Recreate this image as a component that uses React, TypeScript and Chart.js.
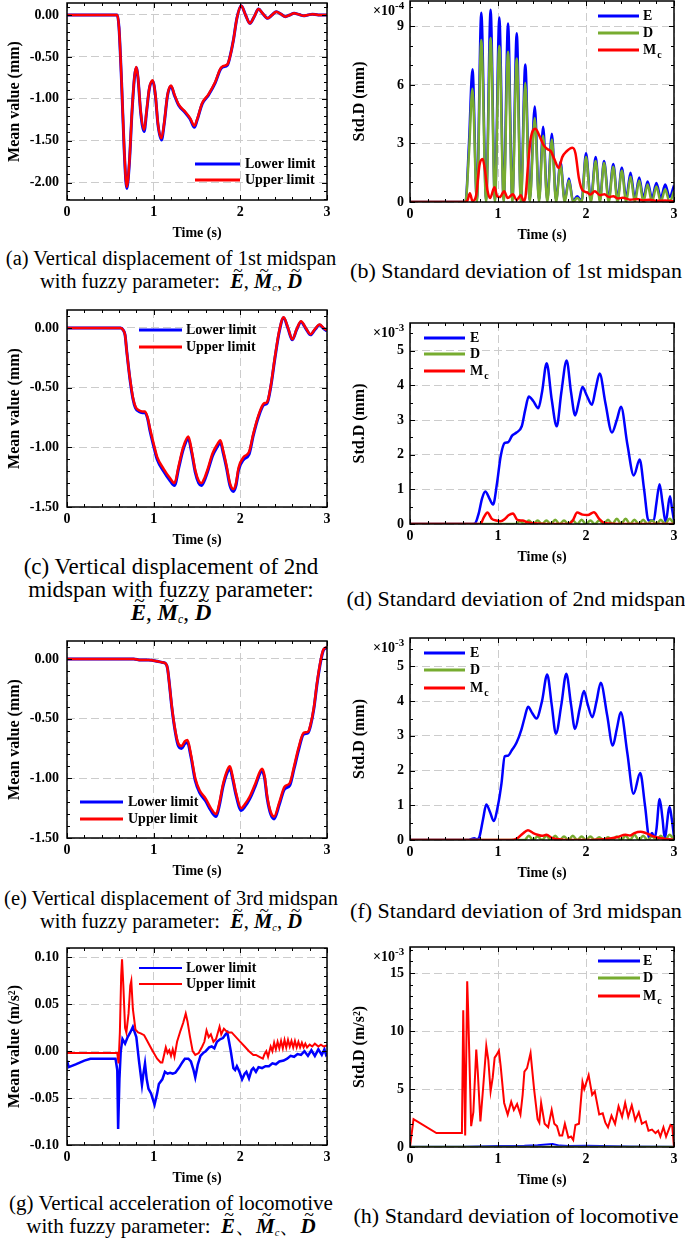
import React, { useEffect, useRef } from "react";
import { Chart, registerables } from "chart.js";

Chart.register(...registerables);

const SERIF = '"Liberation Serif", "Times New Roman", serif';
const BLUE = "#0000ff";
const RED = "#ff0000";
const GREEN = "#77ac30";

// ---------- shared ticks ----------
const X_TICKS = [0, 1, 2, 3];
const Y_TICKS_A = [-2, -1.5, -1, -0.5, 0];
const Y_TICKS_CE = [-1.5, -1, -0.5, 0];
const Y_TICKS_B = [0, 3, 6, 9];
const Y_TICKS_DF = [0, 1, 2, 3, 4, 5];
const Y_TICKS_G = [-0.1, -0.05, 0, 0.05, 0.1];
const Y_TICKS_H = [0, 5, 10, 15];

// ---------- (a) 1st midspan mean ----------
const aT = [0, 0.58, 0.6, 0.63, 0.66, 0.69, 0.72, 0.75, 0.78, 0.8, 0.82, 0.85, 0.89, 0.92, 0.95, 0.99, 1.02, 1.05, 1.09, 1.12, 1.16, 1.2, 1.24, 1.29, 1.36, 1.42, 1.47, 1.5, 1.56, 1.63, 1.71, 1.77, 1.8, 1.85, 1.88, 1.92, 1.96, 2.01, 2.06, 2.11, 2.16, 2.21, 2.26, 2.315, 2.365, 2.415, 2.47, 2.52, 2.57, 2.62, 2.68, 2.73, 2.78, 2.83, 2.9, 3.0];
const aUpper = [0, 0, -0.15, -0.8, -1.6, -2.05, -1.75, -1.15, -0.72, -0.62, -0.75, -1.15, -1.37, -1.13, -0.87, -0.78, -0.95, -1.3, -1.47, -1.3, -0.95, -0.84, -0.95, -1.07, -1.15, -1.23, -1.32, -1.25, -1.05, -0.95, -0.8, -0.64, -0.61, -0.59, -0.5, -0.3, -0.04, 0.11, 0.0, -0.1, -0.02, 0.07, 0.015, -0.04, 0.0, 0.04, 0.01, -0.02, 0.0, 0.02, 0.005, -0.01, 0.0, 0.01, 0.0, 0.0];
const aLower = [0, 0, -0.15, -0.81, -1.61, -2.07, -1.76, -1.16, -0.73, -0.63, -0.76, -1.16, -1.39, -1.14, -0.88, -0.79, -0.96, -1.31, -1.49, -1.31, -0.96, -0.85, -0.96, -1.08, -1.16, -1.24, -1.34, -1.26, -1.06, -0.96, -0.81, -0.65, -0.62, -0.6, -0.5, -0.3, -0.04, 0.11, 0.0, -0.1, -0.02, 0.07, 0.015, -0.04, 0.0, 0.04, 0.01, -0.02, 0.0, 0.02, 0.005, -0.01, 0.0, 0.01, 0.0, 0.0];

// ---------- (b) 1st midspan std (x1e-4) ----------
const bT = [0, 0.63, 0.67, 0.71, 0.76, 0.81, 0.865, 0.916, 0.965, 1.015, 1.065, 1.114, 1.163, 1.213, 1.26, 1.31, 1.36, 1.418, 1.466, 1.513, 1.56, 1.612, 1.66, 1.71, 1.758, 1.806, 1.853, 1.9, 1.95, 2.0, 2.055, 2.11, 2.158, 2.205, 2.258, 2.31, 2.358, 2.407, 2.456, 2.506, 2.555, 2.605, 2.652, 2.7, 2.75, 2.8, 2.85, 2.9, 2.95, 3.0];
const bE = [0, 0, 3.0, 6.8, 0.1, 9.7, 0.1, 9.85, 0.1, 9.45, 0.1, 9.15, 0.1, 8.65, 0.1, 7.05, 0.1, 4.9, 0.1, 3.85, 0.1, 3.5, 0.1, 2.05, 0.1, 1.2, 0.05, 0.3, 0.05, 2.5, 0.1, 2.3, 0.1, 2.1, 0.15, 1.95, 0.15, 1.75, 0.2, 1.5, 0.2, 1.25, 0.2, 1.05, 0.2, 0.97, 0.2, 0.9, 0.25, 0.85];
const bD = [0, 0, 2.5, 5.8, 0, 8.3, 0, 8.4, 0, 8.0, 0, 7.7, 0, 7.35, 0, 6.1, 0, 4.3, 0, 3.4, 0, 3.2, 0, 1.9, 0, 1.1, 0, 0.2, 0, 2.3, 0, 2.1, 0, 2.0, 0, 1.8, 0, 1.6, 0, 1.3, 0, 1.1, 0, 0.9, 0, 0.8, 0, 0.65, 0, 0.55];
const bMT = [0, 0.62, 0.655, 0.68, 0.71, 0.75, 0.79, 0.825, 0.85, 0.88, 0.91, 0.96, 0.99, 1.02, 1.07, 1.11, 1.17, 1.21, 1.26, 1.29, 1.31, 1.34, 1.37, 1.425, 1.47, 1.52, 1.565, 1.6, 1.64, 1.69, 1.73, 1.78, 1.845, 1.88, 1.92, 1.96, 2.01, 2.05, 2.1, 2.16, 2.21, 2.26, 2.31, 2.36, 2.42, 2.5, 2.58, 2.65, 2.72, 2.8, 2.9, 3.0];
const bM = [0, 0, 0.1, 0.45, 0.05, 0.3, 1.9, 2.2, 1.7, 0.6, 0.2, 0.75, 0.3, 0.25, 0.55, 0.2, 0.4, 0.1, 0.35, 0.05, 0.2, 1.8, 3.2, 3.75, 3.4, 2.9, 2.7, 2.6, 2.2, 1.75, 2.3, 2.6, 2.78, 2.5, 1.2, 0.6, 0.5, 0.38, 0.55, 0.35, 0.4, 0.25, 0.3, 0.18, 0.22, 0.12, 0.15, 0.08, 0.12, 0.06, 0.08, 0.04];

// ---------- (c) 2nd midspan mean ----------
const cT = [0, 0.62, 0.65, 0.67, 0.69, 0.71, 0.73, 0.76, 0.79, 0.83, 0.87, 0.9, 0.93, 0.96, 1.0, 1.04, 1.115, 1.19, 1.24, 1.29, 1.34, 1.4, 1.44, 1.48, 1.52, 1.55, 1.59, 1.62, 1.68, 1.73, 1.77, 1.8, 1.84, 1.88, 1.92, 1.95, 1.98, 2.04, 2.1, 2.15, 2.21, 2.27, 2.31, 2.35, 2.4, 2.45, 2.5, 2.55, 2.6, 2.65, 2.7, 2.755, 2.81, 2.86, 2.915, 2.96, 3.0];
const cUpper = [0, 0, -0.02, -0.06, -0.2, -0.33, -0.44, -0.58, -0.66, -0.69, -0.7, -0.7, -0.75, -0.85, -0.97, -1.08, -1.18, -1.26, -1.3, -1.15, -1.0, -0.91, -1.03, -1.19, -1.28, -1.3, -1.25, -1.19, -1.05, -0.98, -0.94, -1.02, -1.15, -1.3, -1.35, -1.3, -1.17, -1.08, -1.04, -0.885, -0.73, -0.634, -0.62, -0.49, -0.24, -0.02, 0.09, 0.0, -0.095, -0.01, 0.056, 0.0, -0.053, -0.01, 0.028, 0.0, -0.02];
const cLower = [0, 0, -0.02, -0.06, -0.2, -0.33, -0.45, -0.59, -0.67, -0.7, -0.71, -0.71, -0.76, -0.87, -0.99, -1.1, -1.2, -1.28, -1.32, -1.17, -1.02, -0.93, -1.05, -1.21, -1.3, -1.32, -1.27, -1.21, -1.07, -1.0, -0.96, -1.04, -1.17, -1.32, -1.37, -1.32, -1.19, -1.1, -1.06, -0.9, -0.745, -0.645, -0.63, -0.5, -0.25, -0.03, 0.085, -0.005, -0.1, -0.015, 0.05, -0.005, -0.058, -0.015, 0.024, -0.005, -0.025];

// ---------- (d) 2nd midspan std (x1e-3) ----------
const dET = [0, 0.7, 0.74, 0.78, 0.82, 0.856, 0.9, 0.944, 0.99, 1.03, 1.077, 1.115, 1.16, 1.21, 1.27, 1.31, 1.35, 1.4, 1.458, 1.5, 1.553, 1.61, 1.667, 1.72, 1.78, 1.83, 1.877, 1.92, 1.96, 2.01, 2.067, 2.11, 2.155, 2.22, 2.295, 2.35, 2.398, 2.47, 2.543, 2.61, 2.66, 2.71, 2.77, 2.8, 2.836, 2.87, 2.905, 2.954, 2.98, 3.0];
const dE = [0, 0, 0.02, 0.3, 0.75, 0.94, 0.75, 0.56, 1.2, 1.95, 2.34, 2.36, 2.55, 2.64, 2.82, 3.3, 3.68, 3.55, 3.34, 3.8, 4.64, 3.6, 2.82, 3.8, 4.72, 3.8, 3.13, 3.55, 3.95, 3.7, 3.44, 3.9, 4.34, 3.5, 2.64, 3.0, 3.38, 2.3, 1.4, 1.86, 1.0, 0.1, 0.1, 0.6, 1.15, 0.6, 0.05, 0.8, 0.4, 0.1];
const dDT = [0, 1.2, 1.25, 1.3, 1.35, 1.4, 1.45, 1.5, 1.55, 1.6, 1.65, 1.7, 1.75, 1.8, 1.85, 1.9, 1.95, 2.0, 2.05, 2.1, 2.15, 2.2, 2.25, 2.3, 2.35, 2.4, 2.45, 2.5, 2.55, 2.6, 2.65, 2.7, 2.75, 2.8, 2.85, 2.9, 2.95, 3.0];
const dD = [0, 0, 0.08, 0, 0.1, 0, 0.1, 0, 0.1, 0, 0.12, 0, 0.1, 0, 0.1, 0, 0.12, 0, 0.1, 0, 0.1, 0, 0.12, 0, 0.15, 0, 0.15, 0, 0.12, 0, 0.12, 0, 0.1, 0, 0.12, 0, 0.15, 0];
const dMT = [0, 0.8, 0.84, 0.88, 0.93, 0.98, 1.03, 1.08, 1.12, 1.17, 1.22, 1.28, 1.33, 1.4, 1.6, 1.8, 1.85, 1.9, 1.96, 2.02, 2.09, 2.15, 2.22, 2.4, 2.6, 2.8, 3.0];
const dM = [0, 0, 0.2, 0.33, 0.15, 0.1, 0.08, 0.15, 0.25, 0.3, 0.12, 0.1, 0.05, 0.02, 0, 0, 0.1, 0.33, 0.27, 0.26, 0.34, 0.15, 0.02, 0, 0, 0, 0];

// ---------- (e) 3rd midspan mean ----------
const eT = [0, 0.77, 0.85, 0.94, 1.04, 1.1, 1.14, 1.16, 1.18, 1.21, 1.24, 1.28, 1.32, 1.36, 1.39, 1.43, 1.48, 1.53, 1.6, 1.66, 1.72, 1.76, 1.8, 1.85, 1.88, 1.91, 1.95, 2.01, 2.05, 2.11, 2.17, 2.25, 2.28, 2.31, 2.35, 2.39, 2.45, 2.51, 2.57, 2.62, 2.67, 2.73, 2.78, 2.81, 2.85, 2.885, 2.93, 2.96, 3.0];
const eUpper = [0, 0, -0.01, -0.01, -0.02, -0.03, -0.04, -0.08, -0.2, -0.4, -0.56, -0.7, -0.73, -0.69, -0.68, -0.8, -1.0, -1.1, -1.17, -1.25, -1.3, -1.2, -1.05, -0.93, -0.9, -0.98, -1.12, -1.25, -1.22, -1.15, -1.05, -0.92, -0.98, -1.15, -1.28, -1.32, -1.2, -1.07, -1.04, -0.9, -0.75, -0.62, -0.61, -0.55, -0.4, -0.2, 0.0, 0.08, 0.1];
const eLower = [0, 0, -0.01, -0.01, -0.02, -0.03, -0.04, -0.08, -0.2, -0.41, -0.57, -0.72, -0.75, -0.71, -0.7, -0.82, -1.02, -1.12, -1.19, -1.27, -1.32, -1.22, -1.07, -0.95, -0.92, -1.0, -1.14, -1.27, -1.24, -1.17, -1.07, -0.94, -1.0, -1.17, -1.3, -1.34, -1.22, -1.09, -1.06, -0.92, -0.77, -0.63, -0.62, -0.56, -0.41, -0.21, -0.01, 0.075, 0.095];

// ---------- (f) 3rd midspan std (x1e-3) ----------
const fET = [0, 0.66, 0.7, 0.73, 0.76, 0.79, 0.83, 0.867, 0.91, 0.95, 1.0, 1.04, 1.076, 1.114, 1.16, 1.21, 1.266, 1.3, 1.342, 1.39, 1.437, 1.5, 1.559, 1.61, 1.658, 1.72, 1.776, 1.83, 1.875, 1.93, 1.977, 2.02, 2.072, 2.12, 2.167, 2.24, 2.304, 2.35, 2.395, 2.47, 2.54, 2.616, 2.67, 2.72, 2.75, 2.78, 2.8, 2.837, 2.87, 2.894, 2.95, 2.975, 3.0];
const fE = [0, 0, 0.03, 0.05, 0.02, 0.1, 0.6, 1.02, 0.8, 0.55, 1.0, 1.64, 2.41, 2.43, 2.6, 2.8, 3.18, 3.5, 3.84, 3.65, 3.5, 4.0, 4.77, 3.9, 3.06, 3.9, 4.79, 3.9, 3.2, 3.8, 4.29, 3.9, 3.54, 4.0, 4.53, 3.6, 2.72, 3.2, 3.68, 2.5, 1.33, 1.93, 1.0, 0.05, 0.2, 0.05, 0.3, 1.18, 0.6, 0.05, 0.95, 0.6, 0.1];
const fDT = [0, 1.3, 1.35, 1.4, 1.45, 1.5, 1.55, 1.6, 1.65, 1.7, 1.75, 1.8, 1.85, 1.9, 1.95, 2.0, 2.05, 2.1, 2.15, 2.2, 2.25, 2.3, 2.35, 2.4, 2.45, 2.5, 2.55, 2.6, 2.65, 2.7, 2.75, 2.8, 2.85, 2.9, 2.95, 3.0];
const fD = [0, 0, 0.12, 0, 0.1, 0, 0.12, 0, 0.12, 0, 0.1, 0, 0.12, 0, 0.1, 0, 0.1, 0, 0.08, 0, 0.08, 0, 0.1, 0, 0.12, 0, 0.15, 0, 0.12, 0, 0.1, 0, 0.12, 0, 0.15, 0];
const fMT = [0, 1.15, 1.22, 1.28, 1.34, 1.4, 1.45, 1.5, 1.55, 1.62, 1.7, 1.8, 2.0, 2.2, 2.35, 2.45, 2.5, 2.55, 2.62, 2.68, 2.75, 2.85, 2.95, 3.0];
const fM = [0, 0, 0.05, 0.18, 0.28, 0.2, 0.15, 0.12, 0.15, 0.05, 0.02, 0, 0, 0.02, 0.08, 0.15, 0.13, 0.2, 0.24, 0.2, 0.12, 0.05, 0.02, 0];

// ---------- (g) locomotive acceleration mean ----------
const gUT = [0, 0.58, 0.595, 0.61, 0.625, 0.635, 0.65, 0.67, 0.685, 0.71, 0.73, 0.742, 0.76, 0.79, 0.82, 0.85, 0.89, 0.92, 0.96, 0.99, 1.04, 1.08, 1.1, 1.12, 1.14, 1.16, 1.18, 1.2, 1.22, 1.24, 1.27, 1.31, 1.34, 1.37, 1.39, 1.42, 1.45, 1.48, 1.52, 1.56, 1.585, 1.61, 1.635, 1.66, 1.69, 1.72, 1.76, 1.78, 1.81, 1.83, 1.86, 1.9, 1.95, 2.0, 2.05, 2.1, 2.15, 2.18, 2.22, 2.26, 2.28, 2.3, 2.32, 2.35, 2.37, 2.39, 2.41, 2.43, 2.45, 2.47, 2.49, 2.51, 2.53, 2.55, 2.57, 2.59, 2.61, 2.63, 2.65, 2.67, 2.69, 2.71, 2.73, 2.75, 2.77, 2.8, 2.83, 2.86, 2.9, 2.93, 2.96, 3.0];
const gUpper = [-0.002, -0.002, -0.013, 0.02, 0.08, 0.098, 0.07, 0.025, 0.02, 0.04, 0.07, 0.075, 0.045, 0.023, 0.02, 0.019, 0.017, 0.012, 0.005, 0.0, -0.008, -0.012, -0.012, -0.004, 0.004, -0.002, 0.001, -0.005, 0.002, -0.006, 0.01, 0.022, 0.03, 0.04, 0.032, 0.015, 0.0, -0.004, -0.002, 0.005, 0.01, 0.022, 0.015, 0.018, 0.01, 0.013, 0.026, 0.018, 0.024, 0.022, 0.02, 0.02, 0.015, 0.01, 0.005, 0.0, -0.004, -0.004, -0.006, -0.008, -0.003, 0.0, -0.006, 0.005, 0.0, 0.009, 0.002, 0.01, 0.003, 0.011, 0.003, 0.012, 0.004, 0.012, 0.005, 0.011, 0.004, 0.011, 0.004, 0.01, 0.004, 0.009, 0.004, 0.008, 0.004, 0.007, 0.005, 0.008, 0.005, 0.007, 0.005, 0.006];
const gLT = [0, 0.02, 0.1, 0.2, 0.27, 0.56, 0.58, 0.59, 0.605, 0.62, 0.64, 0.67, 0.7, 0.73, 0.76, 0.8, 0.83, 0.865, 0.88, 0.9, 0.92, 0.94, 0.97, 1.01, 1.04, 1.06, 1.1, 1.13, 1.16, 1.19, 1.22, 1.25, 1.29, 1.33, 1.36, 1.4, 1.43, 1.46, 1.48, 1.51, 1.54, 1.57, 1.6, 1.64, 1.67, 1.7, 1.73, 1.77, 1.8, 1.83, 1.85, 1.87, 1.89, 1.92, 1.94, 1.96, 1.99, 2.02, 2.05, 2.07, 2.1, 2.13, 2.15, 2.18, 2.21, 2.25, 2.29, 2.33, 2.37, 2.41, 2.45, 2.5, 2.54, 2.58, 2.62, 2.66, 2.7, 2.74, 2.78, 2.82, 2.86, 2.9, 2.94, 2.97, 2.99, 3.0];
const gLower = [-0.01, -0.017, -0.014, -0.01, -0.008, -0.008, -0.02, -0.083, -0.03, 0.0, 0.013, 0.008, 0.015, 0.02, 0.026, 0.015, -0.01, -0.036, -0.025, -0.013, -0.03, -0.04, -0.045, -0.057, -0.045, -0.035, -0.03, -0.022, -0.024, -0.023, -0.024, -0.023, -0.018, -0.012, -0.008, -0.008, -0.011, -0.02, -0.028, -0.014, -0.005, -0.002, 0.0, 0.004, 0.005, 0.003, 0.01, 0.013, 0.014, 0.018, 0.02, 0.01, 0.0, -0.018, -0.02, -0.016, -0.022, -0.03, -0.024, -0.022, -0.029, -0.02, -0.018, -0.022, -0.017, -0.018, -0.016, -0.016, -0.013, -0.014, -0.011, -0.01, -0.008, -0.005, -0.006, -0.003, -0.004, 0.0, -0.005, 0.001, -0.005, 0.002, -0.004, 0.002, -0.004, -0.003];

// ---------- (h) locomotive std (x1e-3) ----------
const hMT = [0, 0.04, 0.3, 0.59, 0.605, 0.627, 0.65, 0.66, 0.695, 0.72, 0.753, 0.77, 0.8, 0.83, 0.867, 0.89, 0.916, 0.94, 0.962, 0.98, 1.01, 1.03, 1.07, 1.11, 1.15, 1.18, 1.217, 1.255, 1.28, 1.3, 1.33, 1.37, 1.41, 1.45, 1.47, 1.49, 1.53, 1.57, 1.61, 1.64, 1.67, 1.7, 1.73, 1.76, 1.8, 1.83, 1.855, 1.88, 1.92, 1.96, 1.98, 2.03, 2.07, 2.1, 2.15, 2.19, 2.22, 2.25, 2.29, 2.33, 2.37, 2.41, 2.445, 2.48, 2.52, 2.56, 2.6, 2.635, 2.68, 2.71, 2.75, 2.79, 2.82, 2.845, 2.88, 2.91, 2.96, 2.98, 3.0];
const hM = [0, 2.4, 1.2, 1.2, 11.8, 1.0, 14.3, 12.0, 1.8, 3.0, 8.4, 6.5, 2.2, 5.0, 8.7, 7.5, 4.8, 6.0, 7.7, 7.9, 8.3, 7.0, 3.8, 2.8, 3.9, 3.2, 3.7, 2.8, 4.5, 6.5, 6.8, 8.1, 5.0, 2.4, 2.1, 3.8, 2.0, 1.7, 3.2, 2.0, 1.8, 1.0, 1.0, 2.0, 0.8, 0.9, 0.6, 1.9, 2.0, 5.6, 5.0, 6.2, 4.5, 4.8, 2.8, 2.9, 2.1, 1.7, 2.7, 2.0, 3.5, 2.6, 3.8, 2.6, 3.6, 2.3, 3.0, 2.0, 2.2, 1.4, 1.5, 1.2, 1.4, 0.9, 1.7, 0.9, 1.9, 1.8, 0];
const hET = [0, 0.6, 1.0, 1.3, 1.45, 1.55, 1.62, 1.7, 1.8, 2.0, 2.5, 3.0];
const hE = [0.03, 0.03, 0.08, 0.1, 0.15, 0.22, 0.25, 0.12, 0.08, 0.1, 0.05, 0.03];
const hDT = [0, 3];
const hD = [0.02, 0.02];

// ---------- panel descriptions ----------
type Series = { t: number[]; v: number[]; color: string; width: number; order: number };
type Legend = { x1: number; x2: number; tx: number; ys: number[]; labels: string[]; subs: string[]; colors: string[]; lw: number };
type Panel = {
  id: string; col: number; area: number[]; yMin: number; yMax: number; yTicks: number[];
  yMinor: number; dec: number; yTitle: string; exp: string; smooth: boolean; series: Series[]; legend: Legend;
};

const LIMIT_LABELS = ["Lower limit", "Upper limit"];
const PARAM_LABELS = ["E", "D", "M"];
const PARAM_SUBS = ["", "", "c"];

const mean = (id: string, area: number[], yMin: number, yMax: number, yTicks: number[], yMinor: number,
  yTitle: string, t1: number[], lo: number[], t2: number[], up: number[], lg: number[], ys: number[], w: number, smooth: boolean): Panel => ({
  id, col: 0, area, yMin, yMax, yTicks, yMinor, dec: 2, yTitle, exp: "", smooth,
  series: [
    { t: t1, v: lo, color: BLUE, width: w + 0.5, order: 1 },
    { t: t2, v: up, color: RED, width: w, order: 0 },
  ],
  legend: { x1: lg[0], x2: lg[1], tx: lg[2], ys, labels: LIMIT_LABELS, subs: ["", ""], colors: [BLUE, RED], lw: w === 2 ? 2 : 3 },
});

const std = (id: string, area: number[], yMax: number, yTicks: number[], yMinor: number, yTitle: string, exp: string,
  tE: number[], vE: number[], tD: number[], vD: number[], tM: number[], vM: number[], ys: number[], lg: number[], w: number, smooth: boolean): Panel => ({
  id, col: 1, area, yMin: 0, yMax, yTicks, yMinor, dec: 0, yTitle, exp, smooth,
  series: [
    { t: tE, v: vE, color: BLUE, width: w, order: 2 },
    { t: tD, v: vD, color: GREEN, width: w, order: 1 },
    { t: tM, v: vM, color: RED, width: w, order: 0 },
  ],
  legend: { x1: lg[0], x2: lg[1], tx: lg[2], ys, labels: PARAM_LABELS, subs: PARAM_SUBS, colors: [BLUE, GREEN, RED], lw: 3 },
});

const PANELS: Panel[] = [
  mean("a", [67, 3, 327, 200], -2.207, 0.143, Y_TICKS_A, 0.1, "Mean value (mm)", aT, aLower, aT, aUpper, [195, 240, 245], [164, 180], 2.5, true),
  std("b", [410, 1, 674, 202], 10.3, Y_TICKS_B, 1, "Std.D (mm)", "-4", bT, bE, bT, bD, bMT, bM, [16, 33, 50], [598, 639, 643], 2.5, true),
  mean("c", [67, 310, 327, 507], -1.5, 0.15, Y_TICKS_CE, 0.1, "Mean value (mm)", cT, cLower, cT, cUpper, [139, 182, 186], [330, 347], 2.5, true),
  std("d", [410, 323, 674, 524], 5.8, Y_TICKS_DF, 0.5, "Std.D (mm)", "-3", dET, dE, dDT, dD, dMT, dM, [338, 354, 371], [424, 465, 470], 2.5, true),
  mean("e", [67, 641, 327, 838], -1.5, 0.15, Y_TICKS_CE, 0.1, "Mean value (mm)", eT, eLower, eT, eUpper, [80, 123, 128], [802, 819], 2.5, true),
  std("f", [410, 638, 674, 840], 5.82, Y_TICKS_DF, 0.5, "Std.D (mm)", "-3", fET, fE, fDT, fD, fMT, fM, [653, 670, 688], [424, 465, 470], 2.5, true),
  mean("g", [67, 948, 327, 1145], -0.1, 0.11, Y_TICKS_G, 0.01, "Mean value (m/s\u00b2)", gLT, gLower, gUT, gUpper, [139, 182, 186], [968, 984], 2, false),
  std("h", [410, 947, 674, 1147], 17.25, Y_TICKS_H, 1, "Std.D (m/s\u00b2)", "-3", hET, hE, hDT, hD, hMT, hM, [961, 978, 996], [598, 640, 643], 2, false),
];

const X_AXIS_H = 45;

function makeDecor(p: Panel, cLeft: number, cTop: number) {
  return {
    id: "decor" + p.id,
    afterDraw(chart: any) {
      const { ctx, chartArea: a, scales } = chart;
      const xs = scales.x;
      const ys = scales.y;
      ctx.save();
      ctx.strokeStyle = "#000";
      ctx.lineWidth = 1;
      ctx.beginPath();
      for (let i = 0; i <= 15; i++) {
        const px = Math.round(xs.getPixelForValue(i * 0.2)) + 0.5;
        const len = i % 5 === 0 ? 5 : 3;
        ctx.moveTo(px, a.bottom);
        ctx.lineTo(px, a.bottom - len);
        ctx.moveTo(px, a.top);
        ctx.lineTo(px, a.top + len);
      }
      const n0 = Math.ceil(p.yMin / p.yMinor - 1e-6);
      const n1 = Math.floor(p.yMax / p.yMinor + 1e-6);
      for (let k = n0; k <= n1; k++) {
        const v = k * p.yMinor;
        const major = p.yTicks.some((t) => Math.abs(t - v) < 1e-6);
        const py = Math.round(ys.getPixelForValue(v)) + 0.5;
        const len = major ? 5 : 3;
        ctx.moveTo(a.left, py);
        ctx.lineTo(a.left + len, py);
        ctx.moveTo(a.right, py);
        ctx.lineTo(a.right - len, py);
      }
      ctx.stroke();
      ctx.lineWidth = 1.5;
      ctx.strokeRect(a.left, a.top, a.right - a.left, a.bottom - a.top);

      // legend
      const L = p.legend;
      L.labels.forEach((lab, i) => {
        const y = L.ys[i] - cTop;
        ctx.strokeStyle = L.colors[i];
        ctx.lineWidth = L.lw;
        ctx.beginPath();
        ctx.moveTo(L.x1 - cLeft, y);
        ctx.lineTo(L.x2 - cLeft, y);
        ctx.stroke();
        ctx.fillStyle = "#000";
        ctx.font = `bold 14px ${SERIF}`;
        ctx.textBaseline = "middle";
        ctx.textAlign = "left";
        ctx.fillText(lab, L.tx - cLeft, y);
        if (L.subs[i]) {
          const w = ctx.measureText(lab).width;
          ctx.font = `bold 10px ${SERIF}`;
          ctx.fillText(L.subs[i], L.tx - cLeft + w + 1, y + 5);
        }
      });

      // exponent
      if (p.exp) {
        ctx.fillStyle = "#000";
        ctx.textAlign = "left";
        ctx.textBaseline = "alphabetic";
        ctx.font = `bold 14px ${SERIF}`;
        const x0 = a.left - 37;
        const y0 = a.top + 14;
        ctx.fillText("\u00d710", x0, y0);
        const w = ctx.measureText("\u00d710").width;
        ctx.font = `bold 11px ${SERIF}`;
        ctx.fillText(p.exp, x0 + w, y0 - 6);
      }
      ctx.restore();
    },
  };
}

function PanelChart({ p }: { p: Panel }) {
  const ref = useRef<HTMLCanvasElement>(null);
  const cLeft = p.col === 0 ? 0 : 342;
  const cW = p.col === 0 ? 342 : 343;
  const [l, t, r, b] = p.area;
  const cTop = t - 8;
  const cH = b + X_AXIS_H - cTop;

  useEffect(() => {
    const tickFont = { family: SERIF, size: 14, weight: "bold" as const };
    const zeroPad = (ax: any) => {
      ax.paddingLeft = 0;
      ax.paddingRight = 0;
      ax.paddingTop = 0;
      ax.paddingBottom = 0;
    };
    const chart = new Chart(ref.current as HTMLCanvasElement, {
      type: "line",
      data: {
        datasets: p.series.map((s) => ({
          data: s.t.map((x, i) => ({ x, y: s.v[i] })),
          borderColor: s.color,
          backgroundColor: s.color,
          borderWidth: s.width,
          pointRadius: 0,
          order: s.order,
          fill: false,
          tension: 0,
          cubicInterpolationMode: p.smooth ? "monotone" : "default",
        })),
      } as any,
      options: {
        animation: false,
        responsive: false,
        maintainAspectRatio: false,
        devicePixelRatio: 1,
        events: [],
        layout: { padding: { left: 0, right: cLeft + cW - r, top: t - cTop, bottom: 0 } },
        plugins: { legend: { display: false }, tooltip: { enabled: false } },
        scales: {
          x: {
            type: "linear",
            min: 0,
            max: 3,
            afterBuildTicks: (ax: any) => {
              ax.ticks = X_TICKS.map((v) => ({ value: v }));
            },
            afterFit: (ax: any) => {
              ax.height = X_AXIS_H;
              zeroPad(ax);
            },
            ticks: { font: tickFont, color: "#000", padding: 4, maxRotation: 0, autoSkip: false, callback: (v: any) => String(v) },
            grid: { color: "#cccccc", lineWidth: 1, drawTicks: false },
            border: { display: false, dash: [8, 4] },
            title: { display: true, text: "Time (s)", color: "#000", font: { family: SERIF, size: 14, weight: "bold" }, padding: { top: 0, bottom: 3.6 } },
          },
          y: {
            type: "linear",
            min: p.yMin,
            max: p.yMax,
            afterBuildTicks: (ax: any) => {
              ax.ticks = p.yTicks.map((v) => ({ value: v }));
            },
            afterFit: (ax: any) => {
              ax.width = l - cLeft;
              zeroPad(ax);
            },
            ticks: { font: tickFont, color: "#000", padding: p.col === 0 ? 8 : 6, autoSkip: false, callback: (v: any) => Number(v).toFixed(p.dec) },
            grid: { color: "#cccccc", lineWidth: 1, drawTicks: false },
            border: { display: false, dash: [8, 4] },
            title: { display: true, text: p.yTitle, color: "#000", font: { family: SERIF, size: 16, weight: "bold" }, padding: { top: p.col === 0 ? 5.4 : 8.4, bottom: 0 } },
          },
        },
      } as any,
      plugins: [makeDecor(p, cLeft, cTop)],
    });
    return () => chart.destroy();
  }, []);

  return (
    <canvas
      ref={ref}
      width={cW}
      height={cH}
      style={{ position: "absolute", left: cLeft, top: cTop, width: cW, height: cH, display: "block" }}
    />
  );
}

function TildeSym({ ch, sub }: { ch: string; sub?: string }) {
  return (
    <span style={{ whiteSpace: "nowrap" }}>
      <span style={{ position: "relative", display: "inline-block", fontWeight: 700, fontStyle: "italic" }}>
        {ch}
        <span
          style={{
            position: "absolute",
            left: "0.12em",
            right: 0,
            top: "-0.6em",
            textAlign: "center",
            fontStyle: "normal",
            fontWeight: 400,
            fontSize: "0.85em",
          }}
        >
          ~
        </span>
      </span>
      {sub ? <span style={{ fontSize: "0.5em", fontStyle: "italic", verticalAlign: "-0.3em" }}>{sub}</span> : null}
    </span>
  );
}

function Fuzzy({ sep }: { sep: string }) {
  return (
    <>
      <TildeSym ch="E" />
      {sep}
      <TildeSym ch="M" sub="c" />
      {sep}
      <TildeSym ch="D" />
    </>
  );
}

type Cap = { left: number; top: number; size: number; lines: React.ReactNode[] };

const CAPTIONS: Cap[] = [
  { left: 0, top: 246.5, size: 20.5, lines: ["(a) Vertical displacement of 1st midspan", <>with fuzzy parameter:&nbsp; <Fuzzy sep=", " /></>] },
  { left: 345, top: 258.5, size: 22, lines: ["(b) Standard deviation of 1st midspan"] },
  { left: 0, top: 554.5, size: 23, lines: ["(c) Vertical displacement of 2nd", "midspan with fuzzy parameter:", <Fuzzy sep=", " />] },
  { left: 345, top: 586.5, size: 22, lines: ["(d) Standard deviation of 2nd midspan"] },
  { left: 0, top: 886.5, size: 20.5, lines: ["(e) Vertical displacement of 3rd midspan", <>with fuzzy parameter:&nbsp; <Fuzzy sep=", " /></>] },
  { left: 345, top: 898.5, size: 22, lines: ["(f) Standard deviation of 3rd midspan"] },
  { left: 0, top: 1191.5, size: 21, lines: ["(g) Vertical acceleration of locomotive", <>with fuzzy parameter:&nbsp; <Fuzzy sep={"\u3001"} /></>] },
  { left: 345, top: 1203.5, size: 22, lines: ["(h) Standard deviation of locomotive"] },
];

export default function App() {
  return (
    <div style={{ position: "absolute", left: 0, top: 0, width: 685, height: 1247, overflow: "hidden", background: "#fff" }}>
      {PANELS.map((p) => (
        <PanelChart key={p.id} p={p} />
      ))}
      {CAPTIONS.map((c, i) => (
        <div
          key={i}
          style={{
            position: "absolute",
            left: c.left,
            top: c.top,
            width: 342,
            textAlign: "center",
            fontFamily: SERIF,
            fontSize: c.size,
            lineHeight: "23px",
            color: "#000",
            whiteSpace: "nowrap",
          }}
        >
          {c.lines.map((ln, j) => (
            <div key={j}>{ln}</div>
          ))}
        </div>
      ))}
    </div>
  );
}
